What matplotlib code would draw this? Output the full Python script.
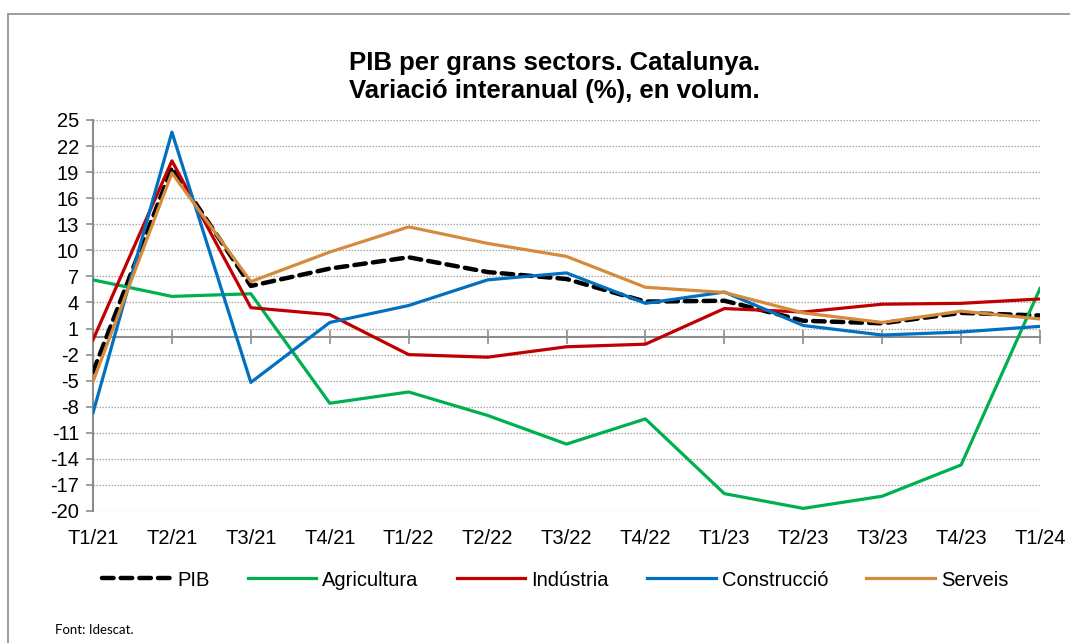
import matplotlib.pyplot as plt
from matplotlib.patches import Rectangle

quarters = ['T1/21', 'T2/21', 'T3/21', 'T4/21', 'T1/22', 'T2/22', 'T3/22',
            'T4/22', 'T1/23', 'T2/23', 'T3/23', 'T4/23', 'T1/24']

pib = [-4.0, 19.5, 5.9, 7.9, 9.2, 7.5, 6.7, 4.1, 4.2, 1.9, 1.6, 2.8, 2.5]
agricultura = [6.6, 4.7, 5.0, -7.6, -6.3, -9.0, -12.3, -9.4, -18.0, -19.7, -18.3, -14.7, 5.6]
industria = [-0.3, 20.3, 3.4, 2.6, -2.0, -2.3, -1.1, -0.8, 3.3, 2.9, 3.8, 3.9, 4.4]
construccio = [-8.7, 23.6, -5.2, 1.7, 3.65, 6.6, 7.4, 3.9, 5.2, 1.35, 0.25, 0.6, 1.25]
serveis = [-5.1, 18.9, 6.4, 9.8, 12.7, 10.8, 9.3, 5.75, 5.15, 2.8, 1.7, 3.0, 2.1]

y_ticks = list(range(-20, 26, 3))

plt.rcParams['font.family'] = ['Liberation Sans', 'DejaVu Sans']
plt.rcParams['axes.unicode_minus'] = False

fig = plt.figure(figsize=(10.7, 6.43), dpi=100)
fig.patches.append(Rectangle((8 / 1070, -0.1), 1.2, 1 - 14 / 643 + 0.1,
                             transform=fig.transFigure, fill=False,
                             edgecolor='#8c8c8c', linewidth=1.2))

ax = fig.add_axes([93 / 1070, 1 - 511 / 643, (1040 - 93) / 1070, (511 - 120) / 643])
x = list(range(len(quarters)))

ax.plot(x, pib, color='black', lw=3.2, dashes=(2.6, 1.6), dash_capstyle='round',
        label='PIB', zorder=3)
ax.plot(x, agricultura, color='#00B050', lw=2.3, label='Agricultura', zorder=4)
ax.plot(x, industria, color='#C00000', lw=2.3, label='Indústria', zorder=4)
ax.plot(x, construccio, color='#0070C0', lw=2.3, label='Construcció', zorder=4)
ax.plot(x, serveis, color='#D58A3C', lw=2.3, label='Serveis', zorder=4)

ax.set_xlim(0, len(quarters) - 1)
ax.set_ylim(-20, 25)
ax.set_yticks(y_ticks)
ax.tick_params(axis='y', labelsize=14.5, length=5, color='#8c8c8c', width=1.2, pad=5)
for yv in y_ticks:
    if yv != 0:
        ax.axhline(yv, color='#a6a6a6', lw=0.9, ls=(0, (1.2, 1.2)), zorder=1)

for s in ['top', 'right']:
    ax.spines[s].set_visible(False)
ax.spines['left'].set_color('#8c8c8c')
ax.spines['left'].set_linewidth(1.5)
ax.spines['bottom'].set_position(('data', 0))
ax.spines['bottom'].set_color('#8c8c8c')
ax.spines['bottom'].set_linewidth(1.5)
ax.set_xticks(x)
ax.set_xticklabels([])
ax.tick_params(axis='x', direction='inout', length=10, color='#8c8c8c', width=1.2)

sec = ax.secondary_xaxis('bottom')
sec.set_xticks(x)
sec.set_xticklabels(quarters)
sec.tick_params(length=0, labelsize=14.5, pad=13)
sec.spines['bottom'].set_visible(False)

fig.text(0.518, 1 - 77 / 643, 'PIB per grans sectors. Catalunya.\nVariació interanual (%), en volum.',
         ha='center', va='center', fontsize=18.5, fontweight='bold', linespacing=1.2)

fig.legend(loc='center', bbox_to_anchor=(0.519, 1 - 580 / 643), ncol=5, frameon=False,
           fontsize=14.5, handlelength=3.4, columnspacing=1.9, handletextpad=0.3)

fig.text(55 / 1070, 1 - 630 / 643, 'Font: Idescat.', fontsize=9.5, family=['Lato', 'DejaVu Sans'],
         va='center')

fig.savefig('out.png', dpi=100)
